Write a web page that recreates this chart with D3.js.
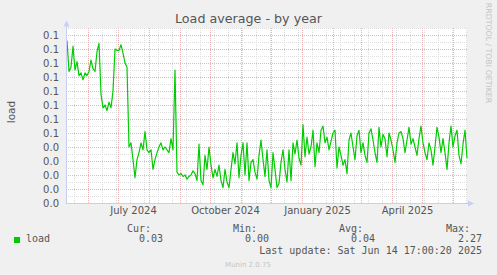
<!DOCTYPE html>
<html>
<head>
<meta charset="utf-8">
<script src="https://cdn.jsdelivr.net/npm/d3@7"></script>
<style>
body { margin: 0; background: #f0f0f0; }
svg { display: block; }
text { font-family: "DejaVu Sans", sans-serif; }
.mono { font-family: "DejaVu Sans Mono", monospace; }
</style>
</head>
<body>
<script>
// load average, one reading every 2 days starting 2024-05-11
const loadValues = [
    0.116, 0.094, 0.097, 0.112, 0.095, 0.101, 0.091, 0.093, 0.088, 0.093,
    0.091, 0.094, 0.102, 0.096, 0.094, 0.108, 0.114, 0.078, 0.068, 0.070,
    0.066, 0.072, 0.068, 0.080, 0.110, 0.109, 0.109, 0.113, 0.107, 0.100,
    0.097, 0.040, 0.043, 0.031, 0.018, 0.031, 0.036, 0.043, 0.038, 0.051,
    0.038, 0.036, 0.038, 0.024, 0.031, 0.036, 0.040, 0.043, 0.038, 0.040,
    0.038, 0.036, 0.046, 0.038, 0.095, 0.022, 0.020, 0.021, 0.019, 0.020,
    0.017, 0.019, 0.020, 0.023, 0.021, 0.016, 0.042, 0.016, 0.013, 0.034,
    0.024, 0.040, 0.027, 0.018, 0.024, 0.019, 0.027, 0.016, 0.011, 0.024,
    0.015, 0.011, 0.024, 0.036, 0.028, 0.043, 0.018, 0.034, 0.043, 0.020,
    0.043, 0.016, 0.029, 0.031, 0.022, 0.017, 0.034, 0.045, 0.031, 0.019,
    0.038, 0.016, 0.011, 0.036, 0.024, 0.011, 0.014, 0.029, 0.038, 0.024,
    0.015, 0.038, 0.016, 0.043, 0.035, 0.045, 0.032, 0.027, 0.056, 0.033,
    0.047, 0.035, 0.040, 0.052, 0.026, 0.043, 0.036, 0.052, 0.055, 0.043,
    0.047, 0.038, 0.044, 0.050, 0.052, 0.025, 0.040, 0.034, 0.027, 0.031,
    0.021, 0.045, 0.050, 0.040, 0.031, 0.048, 0.052, 0.036, 0.043, 0.034,
    0.029, 0.050, 0.053, 0.045, 0.036, 0.029, 0.054, 0.040, 0.049, 0.046,
    0.033, 0.050, 0.045, 0.038, 0.029, 0.043, 0.050, 0.051, 0.046, 0.036,
    0.045, 0.054, 0.042, 0.046, 0.040, 0.034, 0.046, 0.055, 0.043, 0.036,
    0.031, 0.043, 0.038, 0.027, 0.040, 0.054, 0.047, 0.036, 0.046, 0.036,
    0.024, 0.043, 0.055, 0.040, 0.048, 0.052, 0.034, 0.028, 0.042, 0.052,
    0.032
];
const firstReading = new Date(2024, 4, 11);
const stepDays = 2;

const yTicks = [0, 0.01, 0.02, 0.03, 0.04, 0.05, 0.06, 0.07, 0.08, 0.09, 0.10, 0.11, 0.12];
const yTickLabels = ["0.0", "0.0", "0.0", "0.0", "0.0", "0.1", "0.1", "0.1", "0.1", "0.1", "0.1", "0.1", "0.1"];

const xLabels = ["July 2024", "October 2024", "January 2025", "April 2025"];
const xLabelDates = [new Date(2024, 6, 16), new Date(2024, 9, 16), new Date(2025, 0, 16), new Date(2025, 3, 16)];

const legendHeads = ["Cur:", "Min:", "Avg:", "Max:"];
const legendValues = ["0.03", "0.00", "0.04", "2.27"];
const lastUpdate = "Last update: Sat Jun 14 17:00:20 2025";

var width = 497, height = 275;
var plotLeft = 66, plotRight = 467, plotTop = 28, plotBottom = 203;

var svg = d3.select("body").append("svg")
    .attr("width", width)
    .attr("height", height);

svg.append("rect").attr("width", width).attr("height", height).attr("fill", "#f0f0f0");

var x = d3.scaleTime()
    .domain([new Date(2024, 4, 10), new Date(2025, 5, 15)])
    .range([plotLeft, plotRight]);

var y = d3.scaleLinear()
    .domain([0, 0.125])
    .range([plotBottom, plotTop]);

// canvas
svg.append("rect")
    .attr("x", plotLeft).attr("y", plotTop)
    .attr("width", plotRight - plotLeft).attr("height", plotBottom - plotTop)
    .attr("fill", "#ffffff");

var grid = svg.append("g").attr("shape-rendering", "crispEdges");

// minor grid: every half step vertically, every two weeks horizontally
var minorY = d3.range(0, 0.1251, 0.005);
grid.selectAll(".hminor").data(minorY).enter().append("line")
    .attr("x1", plotLeft).attr("x2", plotRight)
    .attr("y1", d => Math.round(y(d)) + 0.5).attr("y2", d => Math.round(y(d)) + 0.5)
    .attr("stroke", "#dcdcdc").attr("stroke-dasharray", "1,1");

var minorX = d3.timeDay.range(new Date(2024, 4, 18), x.domain()[1]).filter((d, i) => i % 14 === 0);
grid.selectAll(".vminor").data(minorX).enter().append("line")
    .attr("x1", d => Math.round(x(d)) + 0.5).attr("x2", d => Math.round(x(d)) + 0.5)
    .attr("y1", plotTop).attr("y2", plotBottom)
    .attr("stroke", "#dcdcdc").attr("stroke-dasharray", "1,1");

// major grid
grid.selectAll(".hmajor").data(yTicks).enter().append("line")
    .attr("x1", plotLeft).attr("x2", plotRight)
    .attr("y1", d => Math.round(y(d)) + 0.5).attr("y2", d => Math.round(y(d)) + 0.5)
    .attr("stroke", "#ebb4b4").attr("stroke-dasharray", "1,1");

var months = d3.timeMonth.range(new Date(2024, 5, 1), x.domain()[1]);
grid.selectAll(".vmajor").data(months).enter().append("line")
    .attr("x1", d => Math.round(x(d)) + 0.5).attr("x2", d => Math.round(x(d)) + 0.5)
    .attr("y1", plotTop).attr("y2", plotBottom)
    .attr("stroke", "#ebb4b4").attr("stroke-dasharray", "1,1");

// series
var points = loadValues.map((v, i) => ({ date: d3.timeDay.offset(firstReading, i * stepDays), value: v }));

var line = d3.line()
    .x(d => x(d.date))
    .y(d => y(d.value));

svg.append("path")
    .datum(points)
    .attr("fill", "none")
    .attr("stroke", "#00cc00")
    .attr("stroke-width", 1.2)
    .attr("stroke-linejoin", "round")
    .attr("d", line);

// axes
var axisColor = "#c8cff5";
svg.append("line")
    .attr("x1", plotLeft + 0.5).attr("x2", plotLeft + 0.5)
    .attr("y1", 24).attr("y2", plotBottom + 1)
    .attr("stroke", axisColor).attr("shape-rendering", "crispEdges");
svg.append("line")
    .attr("x1", plotLeft).attr("x2", 470)
    .attr("y1", plotBottom + 0.5).attr("y2", plotBottom + 0.5)
    .attr("stroke", axisColor).attr("shape-rendering", "crispEdges");
svg.append("path")
    .attr("d", "M" + (plotLeft - 2.5) + ",26.5L" + (plotLeft + 3.5) + ",26.5L" + (plotLeft + 0.5) + ",20.5Z")
    .attr("fill", axisColor);
svg.append("path")
    .attr("d", "M468,200.5L468,206.5L474,203.5Z")
    .attr("fill", axisColor);

var yAxis = svg.append("g")
    .attr("transform", "translate(" + plotLeft + ",0)")
    .call(d3.axisLeft(y).tickValues(yTicks).tickFormat((d, i) => yTickLabels[i]).tickSize(0).tickPadding(7));
yAxis.select(".domain").remove();
yAxis.selectAll("text")
    .attr("font-family", "DejaVu Sans, sans-serif")
    .attr("font-size", 10)
    .attr("fill", "#555");

var xAxis = svg.append("g")
    .attr("transform", "translate(0," + plotBottom + ")")
    .call(d3.axisBottom(x).tickValues(xLabelDates).tickFormat((d, i) => xLabels[i]).tickSize(0).tickPadding(4));
xAxis.select(".domain").remove();
xAxis.selectAll("text")
    .attr("font-family", "DejaVu Sans, sans-serif")
    .attr("font-size", 10)
    .attr("fill", "#555");

// titles
svg.append("text")
    .attr("x", 248.5).attr("y", 23)
    .attr("text-anchor", "middle")
    .attr("font-size", 12.7)
    .attr("fill", "#555")
    .text("Load average - by year");

svg.append("text")
    .attr("transform", "translate(15,112) rotate(-90)")
    .attr("text-anchor", "middle")
    .attr("font-size", 10.5)
    .attr("fill", "#555")
    .text("load");

svg.append("text")
    .attr("transform", "translate(486,53) rotate(90)")
    .attr("text-anchor", "middle")
    .attr("font-size", 7.8)
    .attr("fill", "#c4c4c4")
    .text("RRDTOOL / TOBI OETIKER");

// legend
var legendRight = [151, 257, 363, 470];
svg.append("rect")
    .attr("x", 14).attr("y", 237).attr("width", 6).attr("height", 6)
    .attr("fill", "#00cc00");
svg.append("text").attr("class", "mono")
    .attr("x", 26).attr("y", 242)
    .attr("font-size", 10).attr("fill", "#555")
    .text("load");

svg.selectAll(".lhead").data(legendHeads).enter().append("text")
    .attr("class", "mono")
    .attr("x", (d, i) => legendRight[i]).attr("y", 232)
    .attr("text-anchor", "end")
    .attr("font-size", 10).attr("fill", "#555")
    .text(d => d);

svg.selectAll(".lval").data(legendValues).enter().append("text")
    .attr("class", "mono")
    .attr("x", (d, i) => legendRight[i] + 12).attr("y", 242)
    .attr("text-anchor", "end")
    .attr("font-size", 10).attr("fill", "#555")
    .text(d => d);

svg.append("text").attr("class", "mono")
    .attr("x", 482).attr("y", 254)
    .attr("text-anchor", "end")
    .attr("font-size", 10).attr("fill", "#555")
    .text(lastUpdate);

svg.append("text")
    .attr("x", 248).attr("y", 267)
    .attr("text-anchor", "middle")
    .attr("font-size", 7)
    .attr("fill", "#c4c4c4")
    .text("Munin 2.0.75");
</script>
</body>
</html>
